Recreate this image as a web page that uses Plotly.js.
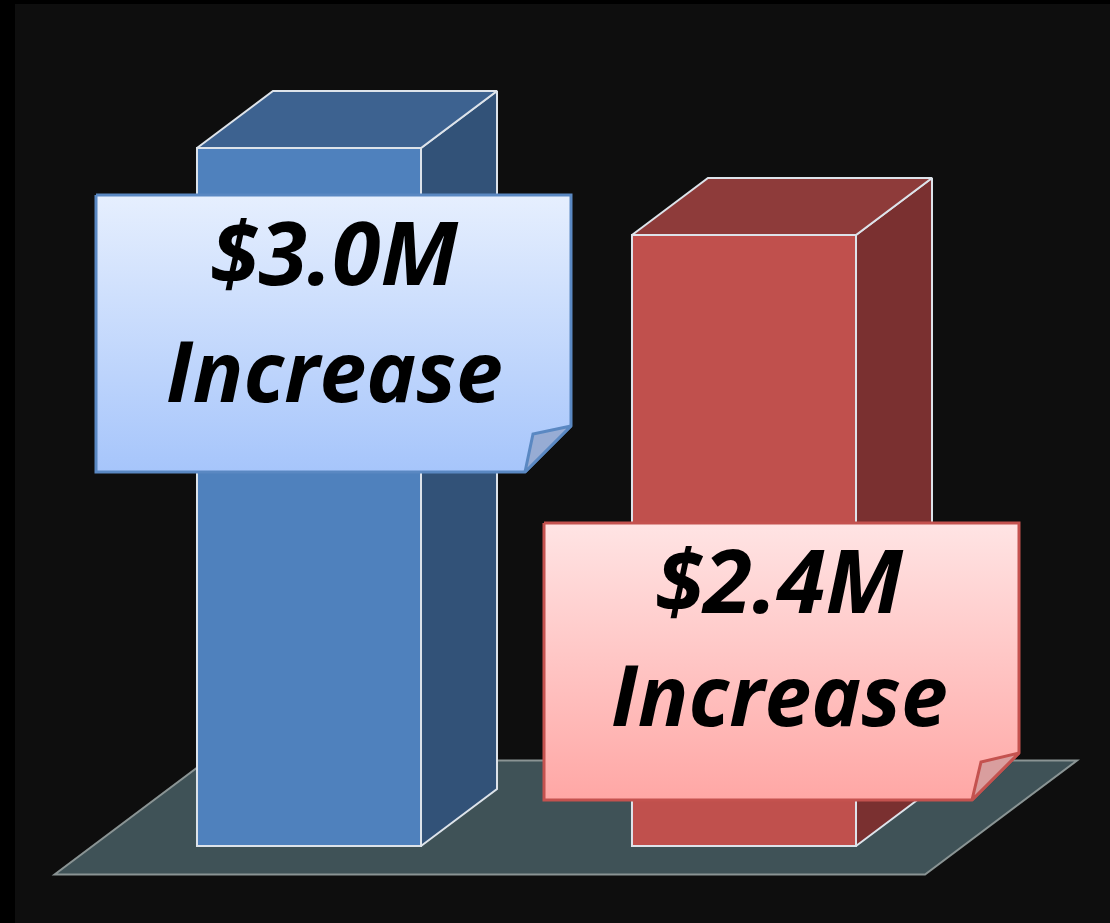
<!DOCTYPE html>
<html>
<head>
<meta charset="utf-8">
<script src="https://cdn.plot.ly/plotly-3.0.1.min.js"></script>
<style>
  html, body { margin: 0; padding: 0; background: #000; }
  #chart { width: 1110px; height: 923px; }
</style>
</head>
<body>
<div id="chart"></div>
<script>
// ---- data ----
const categories = ['Bar 1', 'Bar 2'];
const values = [3.0, 2.4];
const amountLabels = ['$3.0M', '$2.4M'];
const noteLabels = ['Increase', 'Increase'];

// ---- style ----
const frontColors = ['#4f81bd', '#c0504d'];
const topColors = ['#3d6290', '#8e3b3a'];
const sideColors = ['#325278', '#7a3030'];
const edgeColor = '#dde3ea';
const noteBorder = ['#5a88c2', '#c4524f'];
const noteTop = ['#e6effe', '#ffe4e4'];
const noteBottom = ['#a6c5fb', '#ffa7a5'];
const foldFill = ['#97acd4', '#d99e9e'];

// ---- geometry (axis units) ----
const xPos = categories.map((c, i) => i);
const BASE = -1.814;        // floor level where bars stand
const W = 0.515;            // bar width
const DX = 0.1747;          // oblique depth offset in x
const DY = 0.393;           // oblique depth offset in y

// axis mapping helpers (plot area pixels -> axis units), for layout placement only
const PXU = 435, PYU = 145, X0PX = 309, Y0PX = 148, Y0V = values[0];
const X = px => (px - X0PX) / PXU;
const Y = py => Y0V - (py - Y0PX) / PYU;

const traces = [];

// front faces as a real bar trace
traces.push({
  type: 'bar',
  x: xPos,
  y: values.map(v => v - BASE),
  base: BASE,
  width: W,
  marker: { color: frontColors, line: { color: edgeColor, width: 2 } },
  hoverinfo: 'skip',
  showlegend: false
});

// top and side faces
values.forEach((v, i) => {
  const l = xPos[i] - W / 2, r = xPos[i] + W / 2;
  traces.push({
    type: 'scatter', mode: 'lines', fill: 'toself',
    x: [r, r + DX, r + DX, r, r],
    y: [BASE, BASE + DY, v + DY, v, BASE],
    fillcolor: sideColors[i],
    line: { color: edgeColor, width: 2 },
    hoverinfo: 'skip', showlegend: false
  });
  traces.push({
    type: 'scatter', mode: 'lines', fill: 'toself',
    x: [l, l + DX, r + DX, r, l],
    y: [v, v + DY, v + DY, v, v],
    fillcolor: topColors[i],
    line: { color: edgeColor, width: 2 },
    hoverinfo: 'skip', showlegend: false
  });
});

// callout notes (layout placement)
const notes = [
  { l: 96, r: 571, t: 195, b: 472, cut: 46, fold: [533, 434], cx: 334, y1: 251, y2: 369 },
  { l: 544, r: 1019, t: 523, b: 800, cut: 47, fold: [981, 762], cx: 779, y1: 579, y2: 693 }
];
const annotations = [];
notes.forEach((n, i) => {
  traces.push({
    type: 'scatter', mode: 'lines', fill: 'toself',
    x: [X(n.l), X(n.r), X(n.r), X(n.r - n.cut), X(n.l), X(n.l)],
    y: [Y(n.t), Y(n.t), Y(n.b - n.cut), Y(n.b), Y(n.b), Y(n.t)],
    fillgradient: { type: 'vertical', colorscale: [[0, noteBottom[i]], [1, noteTop[i]]] },
    line: { color: noteBorder[i], width: 3 },
    hoverinfo: 'skip', showlegend: false
  });
  traces.push({
    type: 'scatter', mode: 'lines', fill: 'toself',
    x: [X(n.r - n.cut), X(n.fold[0]), X(n.r), X(n.r - n.cut)],
    y: [Y(n.b), Y(n.fold[1]), Y(n.b - n.cut), Y(n.b)],
    fillcolor: foldFill[i],
    line: { color: noteBorder[i], width: 3 },
    hoverinfo: 'skip', showlegend: false
  });
  const font = { family: '"Open Sans", Lato, sans-serif', size: 84, color: '#000', weight: 700, style: 'italic' };
  annotations.push({ x: X(n.cx), y: Y(n.y1), xref: 'x', yref: 'y', text: amountLabels[i],
    showarrow: false, xanchor: 'center', yanchor: 'middle', font: Object.assign({}, font, { size: 88 }) });
  annotations.push({ x: X(n.cx), y: Y(n.y2), xref: 'x', yref: 'y', text: noteLabels[i],
    showarrow: false, xanchor: 'center', yanchor: 'middle', font });
});

// floor
const floorFrontY = BASE - DY / 2;
const floorBackY = BASE + 1.5 * DY;
const fl = xPos[0] - W / 2 - DX / 2 - 0.24;
const fr = xPos[xPos.length - 1] + W / 2 - DX / 2 + 0.246;
const floorPath = `M${fl},${floorFrontY} L${fr},${floorFrontY} L${fr + 2 * DX},${floorBackY} L${fl + 2 * DX},${floorBackY} Z`;

const layout = {
  width: 1110, height: 923,
  margin: { l: 15, r: 0, t: 4, b: 0, pad: 0 },
  paper_bgcolor: '#000',
  plot_bgcolor: '#0e0e0e',
  showlegend: false,
  xaxis: { range: [X(15), X(1110)], showgrid: false, zeroline: false, showticklabels: false, showline: false, fixedrange: true },
  yaxis: { range: [Y(923), Y(4)], showgrid: false, zeroline: false, showticklabels: false, showline: false, fixedrange: true },
  shapes: [{
    type: 'path', path: floorPath, xref: 'x', yref: 'y', layer: 'below',
    fillcolor: '#3f5257', line: { color: '#8a9494', width: 2 }
  }],
  annotations
};

Plotly.newPlot('chart', traces, layout, { displayModeBar: false, staticPlot: true });
</script>
</body>
</html>
